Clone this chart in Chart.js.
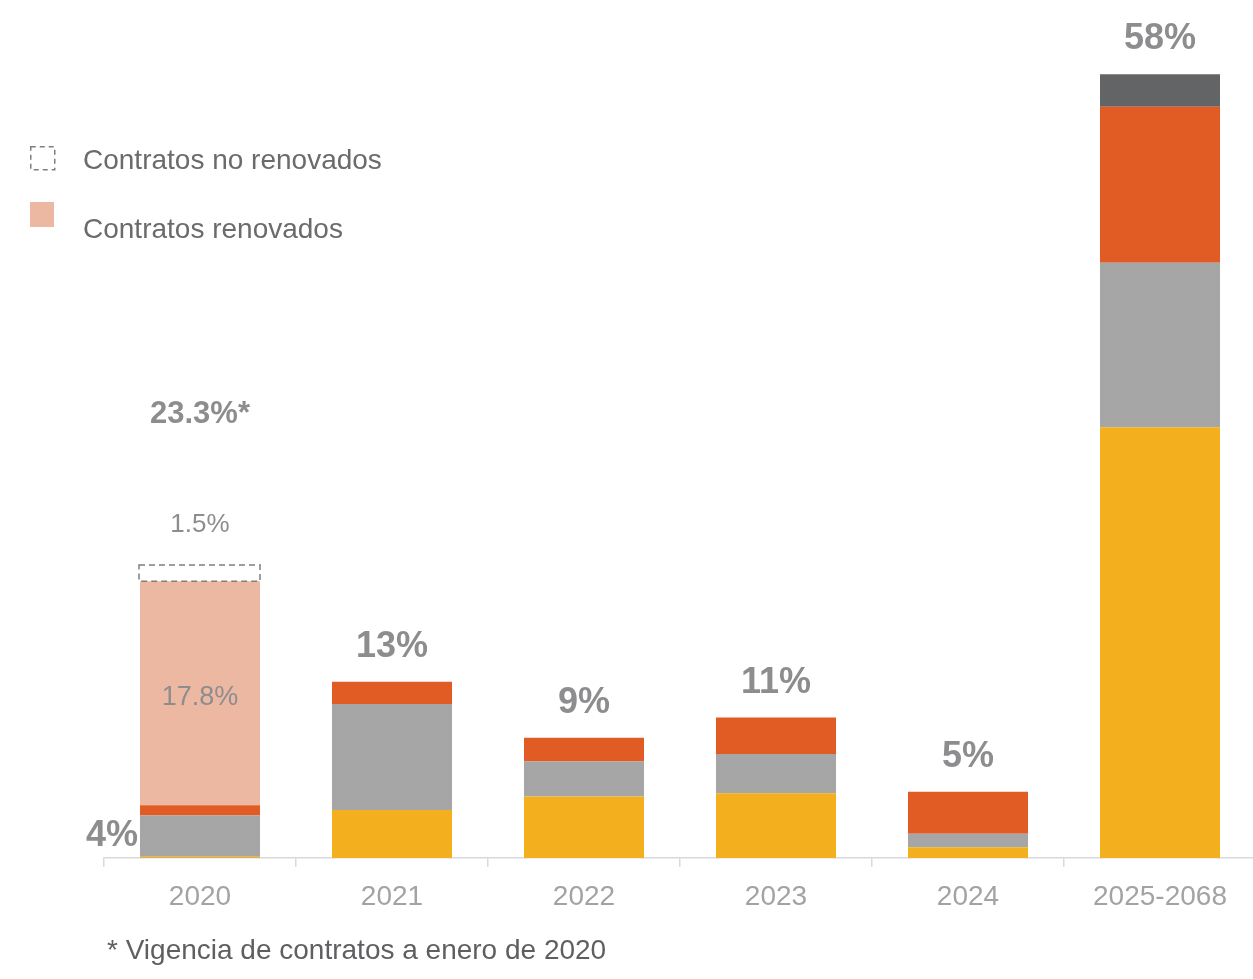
<!DOCTYPE html>
<html>
<head>
<meta charset="utf-8">
<script src="https://cdn.jsdelivr.net/npm/chart.js@4.4.1/dist/chart.umd.min.js"></script>
<style>
  html, body { margin: 0; padding: 0; background: #fff; overflow: hidden; width: 1253px; height: 979px; }
  #wrap { position: absolute; left: 0; top: 0; width: 1256px; height: 979px; }
  .leg { position: absolute; font-family: "Liberation Sans", Arial, sans-serif; font-size: 28px; color: #6b6b6d; white-space: nowrap; }
  .note { position: absolute; left: 107px; top: 935px; font-family: "Liberation Sans", Arial, sans-serif; font-size: 28px; color: #5f5f61; white-space: nowrap; line-height: 30px; }
</style>
</head>
<body>
<div id="wrap"><canvas id="c" width="1256" height="979"></canvas></div>
<svg style="position:absolute;left:0;top:0" width="80" height="240">
  <rect x="30.75" y="146.75" width="24" height="23" fill="none" stroke="#7f7f81" stroke-width="1.5" stroke-dasharray="5 4"/>
  <rect x="30" y="202" width="24" height="25" fill="#EDB8A2"/>
</svg>
<div class="leg" style="left:83px; top:145px; line-height:30px;">Contratos no renovados</div>
<div class="leg" style="left:83px; top:214px; line-height:30px;">Contratos renovados</div>
<div class="note">* Vigencia de contratos a enero de 2020</div>
<script>
const categories = ['2020', '2021', '2022', '2023', '2024', '2025-2068'];
const yellowValues = [0.1, 3.55, 4.55, 4.8, 0.8, 31.9];
const grayValues = [3.05, 7.85, 2.6, 2.9, 1.0, 12.2];
const orangeValues = [0.75, 1.65, 1.75, 2.7, 3.1, 11.55];
const darkValues = [null, null, null, null, null, 2.4];
const renewedValues = [16.6, null, null, null, null, null];
const notRenewedValues = [1.2, null, null, null, null, null];
const totalLabels = ['4%', '13%', '9%', '11%', '5%', '58%'];
const renewedLabel = '17.8%';
const notRenewedLabel = '1.5%';
const totalWithRenewalLabel = '23.3%*';

const FONT = '"Liberation Sans", Arial, sans-serif';
const LABEL_GRAY = '#8d8d8f';

const labelPlugin = {
  id: 'labels',
  afterDatasetsDraw(chart) {
    const ctx = chart.ctx;
    const topOf = (i) => {
      let top = Infinity;
      [0, 1, 2, 3].forEach(d => {
        const el = chart.getDatasetMeta(d).data[i];
        const v = chart.data.datasets[d].data[i];
        if (el && v != null) top = Math.min(top, el.y);
      });
      return top;
    };
    ctx.save();
    ctx.fillStyle = LABEL_GRAY;
    ctx.textBaseline = 'middle';
    // totals
    ctx.font = 'bold 36px ' + FONT;
    for (let i = 0; i < categories.length; i++) {
      const el = chart.getDatasetMeta(0).data[i];
      const top = topOf(i);
      if (i === 0) {
        ctx.textAlign = 'right';
        ctx.fillText(totalLabels[i], el.x - el.width / 2 - 2, top + 31);
      } else {
        ctx.textAlign = 'center';
        ctx.fillText(totalLabels[i], el.x, top - 35);
      }
    }
    // renewed / not renewed
    const rEl = chart.getDatasetMeta(4).data[0];
    const nEl = chart.getDatasetMeta(5).data[0];
    ctx.textAlign = 'center';
    ctx.font = '27px ' + FONT;
    ctx.fillText(renewedLabel, rEl.x, (rEl.y + rEl.base) / 2 + 4);
    // dashed box
    ctx.strokeStyle = '#7f7f81';
    ctx.lineWidth = 1.5;
    ctx.setLineDash([6, 4]);
    ctx.strokeRect(nEl.x - nEl.width / 2 - 1, nEl.y, nEl.width + 1, nEl.base - nEl.y);
    ctx.setLineDash([]);
    ctx.font = '26px ' + FONT;
    ctx.fillText(notRenewedLabel, nEl.x, nEl.y - 40);
    ctx.font = 'bold 31px ' + FONT;
    ctx.fillText(totalWithRenewalLabel, nEl.x, nEl.y - 151);
    ctx.restore();
  }
};

const ds = (label, data, color) => ({
  label, data, backgroundColor: color, borderWidth: 0,
  categoryPercentage: 1.0, barPercentage: 0.625, stack: 's'
});

new Chart(document.getElementById('c'), {
  type: 'bar',
  data: {
    labels: categories,
    datasets: [
      ds('Amarillo', yellowValues, '#F3AF1E'),
      ds('Gris', grayValues, '#A6A6A6'),
      ds('Naranja', orangeValues, '#E15B25'),
      ds('Gris oscuro', darkValues, '#636466'),
      ds('Contratos renovados', renewedValues, '#EDB8A2'),
      ds('Contratos no renovados', notRenewedValues, 'rgba(0,0,0,0)')
    ]
  },
  options: {
    responsive: false,
    animation: false,
    devicePixelRatio: 1,
    layout: { padding: { top: 48, left: 104, right: 0, bottom: 0 } },
    plugins: { legend: { display: false }, tooltip: { enabled: false } },
    scales: {
      x: {
        stacked: true,
        offset: true,
        grid: { display: true, drawOnChartArea: false, drawTicks: true, tickLength: 9, color: '#d9d9d9', lineWidth: 1.5, offset: true },
        border: { display: true, color: '#d9d9d9', width: 1.5 },
        ticks: { color: '#a3a3a5', font: { family: FONT, size: 28 }, padding: 13, maxRotation: 0 },
        afterFit(scale) { scale.height = 121; }
      },
      y: {
        stacked: true,
        display: false,
        min: 0,
        max: 60
      }
    }
  },
  plugins: [labelPlugin]
});
</script>
</body>
</html>
